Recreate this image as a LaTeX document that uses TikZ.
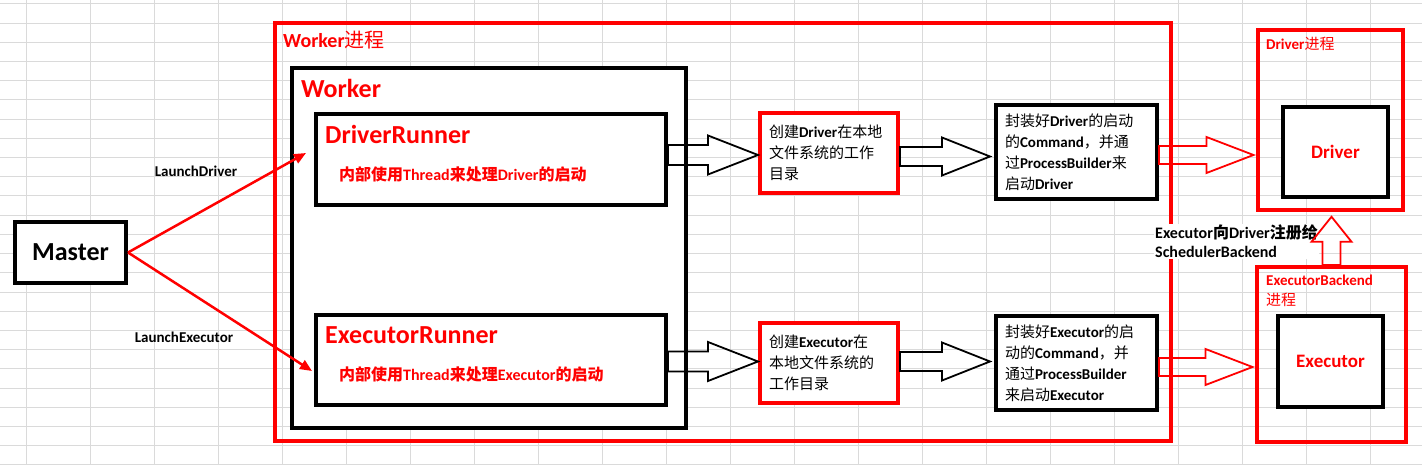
\documentclass[tikz,border=0pt]{standalone}
\usepackage{fontspec}
\setmainfont{Carlito}
\newfontfamily\cjk{Noto Sans CJK SC}
\usetikzlibrary{arrows.meta,calc}
\definecolor{gridc}{RGB}{218,218,218}
\newcommand\zh[1]{{\cjk #1}}
\newcommand\zhm[1]{{\cjk\mdseries #1}}
% horizontal block arrow: style, start, end, shaft half, head half, head length
\newcommand\harrow[6]{\draw[#1] let \p1=#2, \p2=#3 in
  (\x1,\y1+#4) -- (\x2-#6,\y1+#4) -- (\x2-#6,\y1+#5) -- (\x2,\y1) --
  (\x2-#6,\y1-#5) -- (\x2-#6,\y1-#4) -- (\x1,\y1-#4) -- cycle;}
% vertical (upward) block arrow
\newcommand\varrow[6]{\draw[#1] let \p1=#2, \p2=#3 in
  (\x1-#4,\y1) -- (\x1-#4,\y2-#6) -- (\x1-#5,\y2-#6) -- (\x1,\y2) --
  (\x1+#5,\y2-#6) -- (\x1+#4,\y2-#6) -- (\x1+#4,\y1) -- cycle;}
\hyphenpenalty=10000
\exhyphenpenalty=10000
\begin{document}
\begin{tikzpicture}[x=1pt,y=-1pt,
  blackbox/.style={draw=black,line width=4pt,fill=white,inner sep=0pt},
  redbox/.style={draw=red,line width=4pt,inner sep=0pt},
  redtitle/.style={text=red,font=\bfseries\fontsize{26}{30}\selectfont,inner sep=0pt},
  redsmall/.style={text=red,font=\bfseries\fontsize{15}{20}\selectfont,inner sep=0pt},
  redsub/.style={text=red,font=\bfseries\fontsize{16}{20}\selectfont,inner sep=0pt},
  lbl/.style={text=black,font=\bfseries\fontsize{15}{19}\selectfont,inner sep=0pt},
  boxtext/.style={font=\bfseries\fontsize{15}{21}\selectfont,align=left},
  hollowblk/.style={draw=black,line width=1.8pt,line join=miter},
  hollowred/.style={draw=red,line width=1.8pt,line join=miter},
  redarrow/.style={draw=red,line width=2.5pt,-{Triangle[length=12pt,width=10pt]}}]
\useasboundingbox (0,0) rectangle (1422,465);
\fill[white] (0,0) rectangle (1422,465);
\foreach \i in {0,...,21} \draw[gridc,line width=1pt] ({26+64*\i},0) -- ({26+64*\i},465);
\foreach \j in {0,...,24} \draw[gridc,line width=1pt] (0,{4+19.2*\j}) -- (1422,{4+19.2*\j});

% Worker process
\node[redbox,minimum width=896pt,minimum height=418pt] (wp) at (723,232) {};
\node[redsmall,font=\bfseries\fontsize{20}{24}\selectfont,anchor=west] (wpt) at (283,40) {Worker\zhm{进程}};
\node[blackbox,minimum width=394pt,minimum height=360pt] (w) at (489,248) {};
\node[redtitle,anchor=west] (wt) at (301,88) {Worker};

\node[blackbox,minimum width=350pt,minimum height=91pt] (dr) at (491,159.5) {};
\node[redtitle,anchor=west] (drt) at (325,134) {DriverRunner};
\node[redsub,anchor=west] (drs) at (339,174) {\zh{内部使用}Thread\zh{来处理}Driver\zh{的启动}};

\node[blackbox,minimum width=350pt,minimum height=90pt] (er) at (491,360) {};
\node[redtitle,anchor=west] (ert) at (325,335) {ExecutorRunner};
\node[redsub,anchor=west] (ers) at (339,374) {\zh{内部使用}Thread\zh{来处理}Executor\zh{的启动}};

% create / pack boxes
\node[redbox,fill=white,boxtext,inner sep=9pt,text width=120pt,minimum width=138pt,minimum height=80pt] (cd) at (829,153)
  {\zhm{创建}Driver\zhm{在本地}\\\zhm{文件系统的工作}\\\zhm{目录}};
\node[blackbox,boxtext,inner sep=9pt,text width=143pt,minimum width=161pt,minimum height=92pt] (pk) at (1076.5,152)
  {\zhm{封装好}Driver\zhm{的启动}\\\zhm{的}Command\zhm{，并通}\\\zhm{过}ProcessBuilder\zhm{来}\\\zhm{启动}Driver};
\node[redbox,fill=white,boxtext,inner sep=9pt,text width=120pt,minimum width=138pt,minimum height=80pt] (ce) at (829,363)
  {\zhm{创建}Executor\zhm{在}\\\zhm{本地文件系统的}\\\zhm{工作目录}};
\node[blackbox,boxtext,inner sep=9pt,text width=143pt,minimum width=161pt,minimum height=92pt] (pe) at (1076.5,363)
  {\zhm{封装好}Executor\zhm{的启}\\\zhm{动的}Command\zhm{，并}\\\zhm{通过}ProcessBuilder\\\zhm{来启动}Executor};

% right side processes
\node[redbox,minimum width=145pt,minimum height=180pt] (dp) at (1330.5,120) {};
\node[redsmall,anchor=west] (dpt) at (1266,44) {Driver\zhm{进程}};
\node[blackbox,text=red,font=\bfseries\fontsize{19}{22}\selectfont,minimum width=105pt,minimum height=90pt] (d) at (1335.5,152) {Driver};

\node[redbox,minimum width=149pt,minimum height=175pt] (eb) at (1331.5,354.5) {};
\node[redsmall,anchor=north west,align=left] (ebt) at (1266,275) {ExecutorBackend\\\zhm{进程}};
\node[blackbox,text=red,font=\bfseries\fontsize{19}{22}\selectfont,minimum width=105pt,minimum height=91pt] (ex) at (1330.5,361.5) {Executor};

\node[lbl,font=\bfseries\fontsize{16}{19}\selectfont,anchor=north west,align=left,fill=white,inner sep=1pt] (reg) at (1154,224) {Executor\zh{向}Driver\zh{注册给}\\SchedulerBackend};

% Master
\node[blackbox,font=\bfseries\fontsize{26}{30}\selectfont,minimum width=111pt,minimum height=61pt] (m) at (70.5,252.5) {Master};
\node[lbl] (ld) at (196,171) {LaunchDriver};
\node[lbl] (le) at (184,337) {LaunchExecutor};
\coordinate (dtip) at (306,153);
\coordinate (etip) at (312,371);
\draw[redarrow] (m.east) -- (dtip);
\draw[redarrow] (m.east) -- (etip);

% hollow arrows
\harrow{hollowblk}{([yshift=4.5pt]dr.east)}{(cd.west)}{10pt}{19.5pt}{50pt}
\harrow{hollowblk}{([yshift=-3.5pt]cd.east)}{([xshift=-4pt]pk.west)}{9.5pt}{19pt}{48pt}
\harrow{hollowred}{([yshift=-3pt]pk.east)}{([xshift=-2.5pt]dp.west)}{9pt}{18pt}{47pt}
\harrow{hollowblk}{([yshift=-1.5pt]er.east)}{(ce.west)}{10pt}{19.5pt}{50pt}
\harrow{hollowblk}{([yshift=1.5pt]ce.east)}{([xshift=-4pt]pe.west)}{9.5pt}{19pt}{48pt}
\harrow{hollowred}{([yshift=-4pt]pe.east)}{([xshift=-2.5pt]eb.west)}{9pt}{18pt}{47pt}
\varrow{hollowred}{(eb.north)}{([yshift=-4.75pt]dp.south)}{9pt}{20pt}{25pt}
\end{tikzpicture}
\end{document}
